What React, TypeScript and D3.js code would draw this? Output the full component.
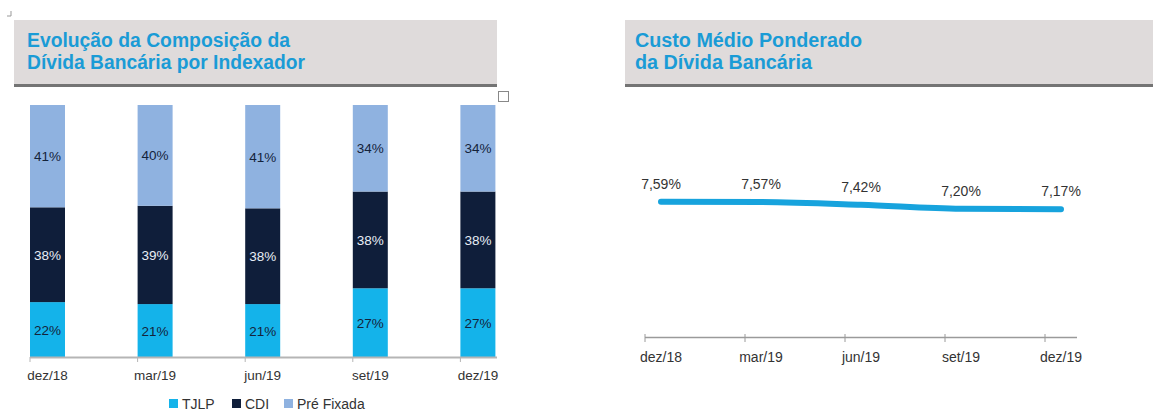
import React from "react";
import * as d3 from "d3";

const categories = ["dez/18", "mar/19", "jun/19", "set/19", "dez/19"];
const tjlp = [22, 21, 21, 27, 27];
const cdi = [38, 39, 38, 38, 38];
const preFixada = [41, 40, 41, 34, 34];
const seriesNames = ["TJLP", "CDI", "Pré Fixada"];
const custoMedio = [7.59, 7.57, 7.42, 7.2, 7.17];

const titleLeft = ["Evolução da Composição da", "Dívida Bancária por Indexador"];
const titleRight = ["Custo Médio Ponderado", "da Dívida Bancária"];

const COLORS = ["#14b3ea", "#0f1e3a", "#8fb2e0"];
const LABEL_COLORS = ["#14233b", "#e8eef6", "#14233b"];
const TITLE_COLOR = "#1a9bd6";
const FONT = "'Liberation Sans', Arial, sans-serif";

export default function App() {
  const W = 1153;
  const H = 412;

  // ---- left stacked bar chart ----
  const rows = categories.map((c, i) => ({
    cat: c,
    TJLP: tjlp[i],
    CDI: cdi[i],
    "Pré Fixada": preFixada[i],
  }));
  const stack = d3.stack<any>().keys(seriesNames).offset(d3.stackOffsetExpand);
  const stacked = stack(rows);
  const bw = 35;
  const step = 107.6;
  const pi = 1 - bw / step;
  const xL = d3
    .scaleBand<string>()
    .domain(categories)
    .range([30, 30 + step * (categories.length - pi)])
    .paddingInner(pi)
    .paddingOuter(0);
  const yL = d3.scaleLinear().domain([0, 1]).range([357, 105]);
  const rawVals = [tjlp, cdi, preFixada];

  // ---- right line chart ----
  const xR = d3.scalePoint<string>().domain(categories).range([661, 1061]);
  const yR = d3.scaleLinear().domain([0, 8]).range([337.7, 337.7 - 8 * 17.92]);
  const line = d3
    .line<number>()
    .x((_, i) => xR(categories[i])!)
    .y((d) => yR(d))
    .curve(d3.curveMonotoneX);
  const fmt = (v: number) => v.toFixed(2).replace(".", ",") + "%";

  const legendOffsets = [0, 63, 115];

  return (
    <svg
      width={W}
      height={H}
      style={{ position: "absolute", left: 0, top: 0, background: "#fff" }}
      fontFamily={FONT}
    >
      {/* tiny corner mark */}
      <path d="M11,11 L11,16 L7,16" fill="none" stroke="#999" strokeWidth={1} />

      {/* left title box */}
      <rect x={14} y={20} width={483} height={65} fill="#dfdbdb" />
      <rect x={14} y={84} width={483} height={3} fill="#747474" />
      {titleLeft.map((t, i) => (
        <text
          key={t}
          x={27}
          y={47 + i * 22}
          fontSize={20}
          fontWeight="bold"
          fill={TITLE_COLOR}
          textLength={i === 0 ? 263 : 278}
          lengthAdjust="spacingAndGlyphs"
        >
          {t}
        </text>
      ))}
      <rect x={498.5} y={91.5} width={10} height={10} fill="#fff" stroke="#888" strokeWidth={1} />

      {/* right title box */}
      <rect x={625} y={20} width={528} height={65} fill="#dfdbdb" />
      <rect x={625} y={84} width={528} height={3} fill="#747474" />
      {titleRight.map((t, i) => (
        <text
          key={t}
          x={635}
          y={47 + i * 22}
          fontSize={20}
          fontWeight="bold"
          fill={TITLE_COLOR}
          textLength={i === 0 ? 227 : 177}
          lengthAdjust="spacingAndGlyphs"
        >
          {t}
        </text>
      ))}

      {/* stacked bars */}
      {stacked.map((s, si) => (
        <g key={s.key}>
          {s.map((d, i) => (
            <g key={i}>
              <rect
                x={xL(categories[i])!}
                y={yL(d[1])}
                width={xL.bandwidth()}
                height={yL(d[0]) - yL(d[1])}
                fill={COLORS[si]}
              />
              <text
                x={xL(categories[i])! + xL.bandwidth() / 2}
                y={(yL(d[0]) + yL(d[1])) / 2 + 5}
                textAnchor="middle"
                fontSize={13.5}
                fill={LABEL_COLORS[si]}
              >
                {rawVals[si][i]}%
              </text>
            </g>
          ))}
        </g>
      ))}
      {/* left axis */}
      <line x1={30} x2={497} y1={357.5} y2={357.5} stroke="#b5b5b5" strokeWidth={2} />
      {categories.map((c) => (
        <g key={c}>
          <line x1={xL(c)!} x2={xL(c)!} y1={357} y2={362} stroke="#b5b5b5" strokeWidth={1} />
          <text
            x={xL(c)! + xL.bandwidth() / 2}
            y={380}
            textAnchor="middle"
            fontSize={13.5}
            fill="#333"
          >
            {c}
          </text>
        </g>
      ))}
      {/* legend */}
      {seriesNames.map((n, i) => (
        <g key={n} transform={`translate(${169 + legendOffsets[i]},0)`}>
          <rect x={0} y={399} width={9} height={9} fill={COLORS[i]} />
          <text x={13} y={409} fontSize={14} fill="#333">
            {n}
          </text>
        </g>
      ))}

      {/* right line chart */}
      <path
        d={line(custoMedio)!}
        fill="none"
        stroke="#17a3dd"
        strokeWidth={6}
        strokeLinecap="round"
      />
      {custoMedio.map((v, i) => (
        <text
          key={i}
          x={xR(categories[i])!}
          y={yR(v) - 13}
          textAnchor="middle"
          fontSize={14}
          fill="#333"
        >
          {fmt(v)}
        </text>
      ))}
      <line x1={645} x2={1077} y1={337.5} y2={337.5} stroke="#9a9a9a" strokeWidth={1.5} />
      {categories.map((c) => (
        <g key={c}>
          <line
            x1={xR(c)! - 16}
            x2={xR(c)! - 16}
            y1={334}
            y2={342}
            stroke="#9a9a9a"
            strokeWidth={1}
          />
          <text x={xR(c)!} y={362} textAnchor="middle" fontSize={14} fill="#333">
            {c}
          </text>
        </g>
      ))}
    </svg>
  );
}
